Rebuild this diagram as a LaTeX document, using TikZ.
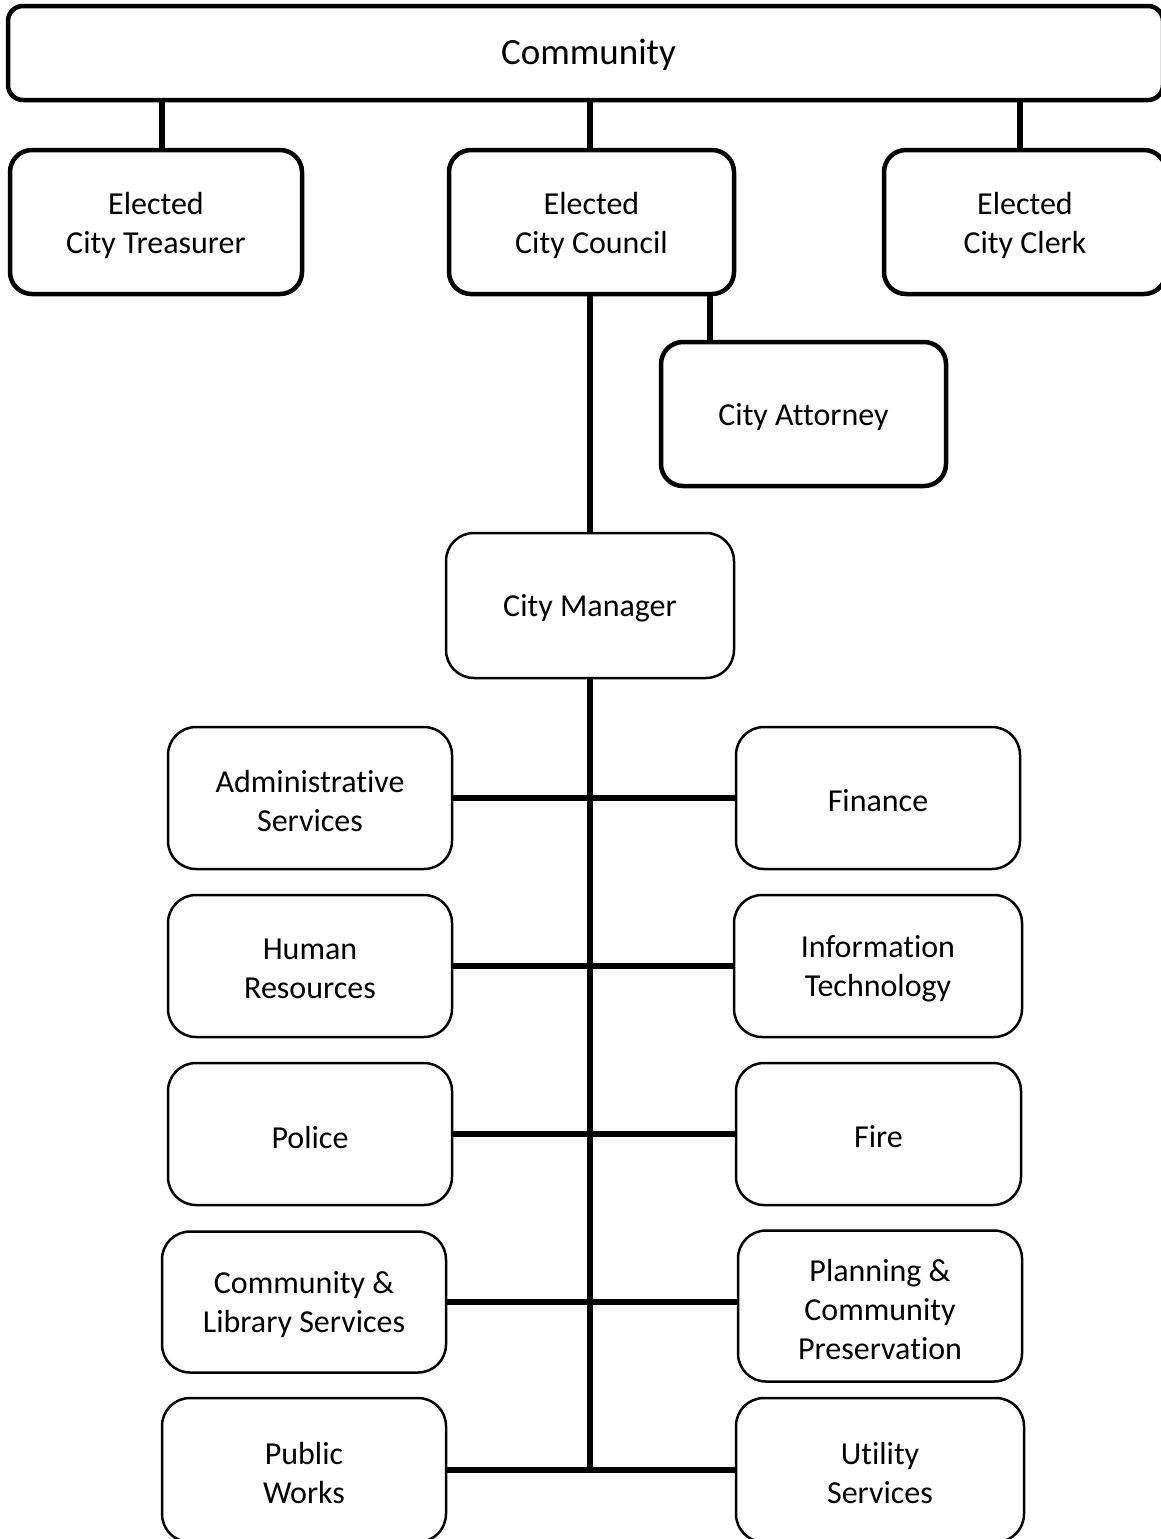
\documentclass[tikz,border=0pt]{standalone}
\usepackage{fontspec}
\setmainfont{Carlito}[Ligatures=NoCommon]
\begin{document}
\begin{tikzpicture}[x=1pt,y=-1pt,
  lbl/.style={align=center,inner sep=0pt,font=\fontsize{32}{39}\selectfont,yshift=-3pt},
  txt/.style={label={[lbl]center:#1}},
  topbox/.style={draw=black,line width=4.5pt,rounded corners=22pt,inner sep=0pt,minimum height=144pt},
  subbox/.style={draw=black,line width=2.5pt,rounded corners=28pt,inner sep=0pt,minimum width=284pt,minimum height=142pt},
  conn/.style={line width=6pt}]
\useasboundingbox (0,0) rectangle (1161,1539);
\node[topbox,rounded corners=15pt,minimum width=1155pt,minimum height=94pt,
  label={[lbl,font=\fontsize{37}{44}\selectfont,xshift=3pt,yshift=1pt]center:Community}] (C) at (585.5,53) {};
\node[topbox,minimum width=292pt,txt={Elected\\City Treasurer}] (T) at (156,222) {};
\node[topbox,minimum width=285pt,txt={Elected\\City Council}] (CC) at (591.5,222) {};
\node[topbox,minimum width=282pt,txt={Elected\\City Clerk}] (CK) at (1025,222) {};
\node[topbox,minimum width=285pt,txt={City Attorney}] (A) at (803.5,414) {};
\node[subbox,minimum width=288pt,minimum height=145pt,txt={City Manager}] (M) at (590,605.5) {};
\node[subbox,txt={Administrative\\Services}] (L1) at (310,798) {};
\node[subbox,txt={Finance}] (R1) at (878,798) {};
\node[subbox,txt={Human\\Resources}] (L2) at (310,966) {};
\node[subbox,minimum width=288pt,txt={Information\\Technology}] (R2) at (878,966) {};
\node[subbox,txt={Police}] (L3) at (310,1134) {};
\node[subbox,minimum width=285pt,txt={Fire}] (R3) at (878.5,1134) {};
\node[subbox,minimum height=141pt,txt={Community \&\\Library Services}] (L4) at (304,1302) {};
\node[subbox,minimum height=151pt,txt={Planning \&\\Community\\Preservation}] (R4) at (880,1306) {};
\node[subbox,minimum height=144pt,txt={Public\\Works}] (L5) at (304,1470) {};
\node[subbox,minimum width=288pt,minimum height=144pt,txt={Utility\\Services}] (R5) at (880,1470) {};
\coordinate (trunkend) at (590,1470);
% top connectors
\draw[conn] ([xshift=6pt]T.north) -- ([xshift=6pt]T.north |- C.south);
\draw[conn] ([xshift=-1.5pt]CC.north) -- ([xshift=-1.5pt]CC.north |- C.south);
\draw[conn] ([xshift=-5pt]CK.north) -- ([xshift=-5pt]CK.north |- C.south);
\draw[conn] ([xshift=-93.5pt]A.north) -- ([xshift=-93.5pt]A.north |- CC.south);
\draw[conn] (M.north) -- (M.north |- CC.south);
\draw[conn] (M.south) -- (trunkend);
% branches
\draw[conn] (L1.east) -- (R1.west);
\draw[conn] (L2.east) -- (R2.west);
\draw[conn] (L3.east) -- (R3.west);
\draw[conn] (L4.east) -- (L4.east -| R4.west);
\draw[conn] (L5.east) -- (R5.west);
\end{tikzpicture}
\end{document}
